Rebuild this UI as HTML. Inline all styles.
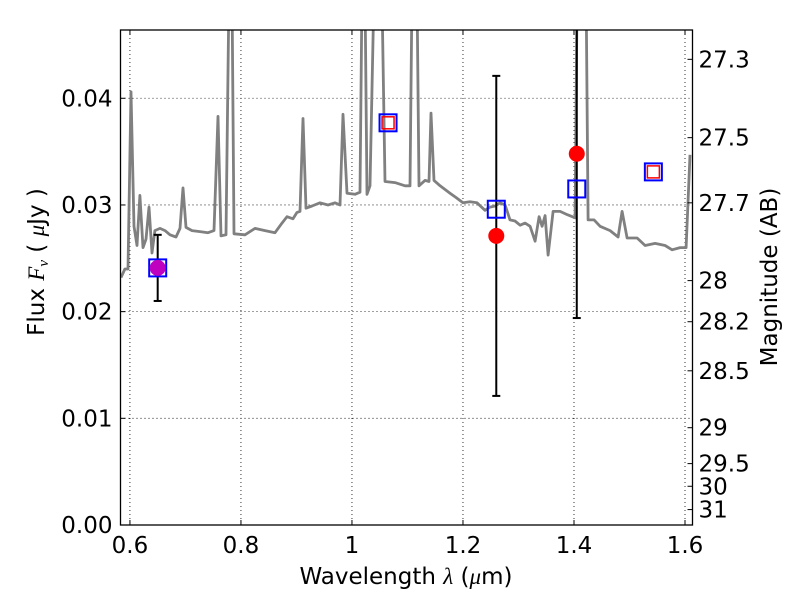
<!DOCTYPE html>
<html><head><meta charset="utf-8"><style>
body{margin:0;background:#fff;}
svg{display:block;font-family:"DejaVu Sans","Liberation Sans",sans-serif;}
</style></head><body>
<svg id="chart" width="800" height="600" viewBox="0 0 800 600"></svg>
<script>
const specWave=[0.5839,0.591,0.5965,0.602,0.6073,0.6127,0.618,0.6235,0.629,0.6343,0.6398,0.645,0.6542,0.6632,0.6722,0.683,0.6902,0.6956,0.701,0.7118,0.7262,0.7406,0.7515,0.7587,0.764,0.773,0.7785,0.7839,0.7875,0.8073,0.8254,0.8434,0.8614,0.874,0.883,0.8938,0.901,0.9064,0.9118,0.9172,0.928,0.9424,0.9568,0.9694,0.9784,0.9838,0.991,1.0054,1.0145,1.018,1.0235,1.027,1.0325,1.0397,1.045,1.0487,1.054,1.0595,1.0775,1.0955,1.1046,1.1082,1.1172,1.1208,1.1316,1.1388,1.1424,1.1478,1.1587,1.1767,1.1875,1.2001,1.2127,1.2253,1.2397,1.2487,1.2578,1.2668,1.2758,1.2848,1.2938,1.3029,1.3119,1.3209,1.3299,1.3371,1.3425,1.3479,1.3533,1.3624,1.375,1.3876,1.402,1.4056,1.4218,1.4254,1.4362,1.447,1.4651,1.4795,1.4867,1.4957,1.5137,1.5281,1.5461,1.5641,1.5767,1.5911,1.602,1.609];
const specFlux=[0.0232,0.0240,0.0240,0.0406,0.0280,0.0262,0.0309,0.0260,0.0268,0.0298,0.0255,0.0276,0.0278,0.0276,0.0272,0.0270,0.0278,0.0316,0.0279,0.0276,0.0275,0.0274,0.0276,0.0383,0.0271,0.0272,0.05,0.05,0.0273,0.0272,0.0278,0.0276,0.0274,0.0283,0.0289,0.0287,0.0293,0.0294,0.0381,0.0297,0.0299,0.0302,0.0300,0.0302,0.0300,0.0385,0.0311,0.0310,0.0312,0.05,0.05,0.0310,0.0318,0.05,0.05,0.05,0.05,0.0322,0.0321,0.0318,0.0318,0.05,0.05,0.0318,0.0323,0.0322,0.0386,0.0323,0.0318,0.0311,0.0307,0.0302,0.0303,0.0302,0.0295,0.0298,0.0299,0.0302,0.0300,0.0286,0.0285,0.0281,0.0283,0.0280,0.0266,0.0289,0.0280,0.0290,0.0253,0.0294,0.0294,0.0291,0.0288,0.05,0.05,0.0286,0.0286,0.0280,0.0276,0.0270,0.0294,0.0269,0.0269,0.0262,0.0264,0.0262,0.0258,0.0260,0.0260,0.0347];
const modelWave=[0.65,1.065,1.26,1.405,1.543];
const modelFlux=[0.0241,0.0377,0.0296,0.0315,0.0331];
const modelInner=[false,true,false,false,true];
const obsWave=[0.65,1.26,1.405];
const obsFlux=[0.0241,0.0271,0.0348];
const obsErr=[0.0031,0.0150,0.0154];
const obsColor=["#bf00bf","#ff0000","#ff0000"];
const xTicks=[0.6,0.8,1.0,1.2,1.4,1.6];
const xTickLabels=["0.6","0.8","1","1.2","1.4","1.6"];
const yTicks=[0,0.01,0.02,0.03,0.04];
const yTickLabels=["0.00","0.01","0.02","0.03","0.04"];
const magTicks=[27.3,27.5,27.7,28,28.2,28.5,29,29.5,30,31];
const magLabels=["27.3","27.5","27.7","28","28.2","28.5","29","29.5","30","31"];

const L=120.5,R=692.5,T=30,B=525;
const X0=0.583,X1=1.6135,Y0=0,Y1=0.0464;
const FS=23;
const xs=v=>L+(v-X0)/(X1-X0)*(R-L);
const ys=v=>B-(v-Y0)/(Y1-Y0)*(B-T);
const magToFlux=m=>Math.pow(10,(23.9-m)/2.5);
const NS="http://www.w3.org/2000/svg";
const svg=document.getElementById('chart');
function mk(tag,attrs,parent){const e=document.createElementNS(NS,tag);for(const k in attrs)e.setAttribute(k,attrs[k]);(parent||svg).appendChild(e);return e;}

const defs=mk('defs',{});
const cp=mk('clipPath',{id:'clip'},defs);
mk('rect',{x:L,y:T,width:R-L,height:B-T},cp);

const grid=mk('g',{});


xTicks.forEach(t=>{mk('line',{x1:xs(t),x2:xs(t),y1:T,y2:B,stroke:'#000','stroke-width':0.8,'stroke-dasharray':'1,3'},grid);});
yTicks.forEach(t=>{mk('line',{x1:L,x2:R,y1:ys(t),y2:ys(t),stroke:'#000','stroke-width':0.8,'stroke-dasharray':'1,3'},grid);});

const plot=mk('g',{'clip-path':'url(#clip)'});


let d='';specWave.forEach((w,i)=>{d+=(i?'L':'M')+xs(w).toFixed(1)+','+ys(specFlux[i]).toFixed(1);});
const sp=mk('path',{d:d,fill:'none',stroke:'#808080','stroke-width':2.8,'stroke-linejoin':'round'},plot);



obsWave.forEach((w,i)=>{
  const x=xs(w),y1=ys(obsFlux[i]+obsErr[i]),y2=ys(obsFlux[i]-obsErr[i]);
  const g=mk('g',{},plot);
  
  
  mk('line',{x1:x,x2:x,y1:y1,y2:y2,stroke:'#000','stroke-width':2},g);
  mk('line',{x1:x-4,x2:x+4,y1:y1,y2:y1,stroke:'#000','stroke-width':2},g);
  mk('line',{x1:x-4,x2:x+4,y1:y2,y2:y2,stroke:'#000','stroke-width':2},g);
});
modelWave.forEach((w,i)=>{
  const x=xs(w),y=ys(modelFlux[i]);
  const r=mk('rect',{x:x-8.5,y:y-8.5,width:17,height:17,fill:'none',stroke:'#0000ff','stroke-width':2},plot);
  
  
  if(modelInner[i]){
    const r2=mk('rect',{x:x-6,y:y-6,width:12,height:12,fill:'none',stroke:'#ff0000','stroke-width':1.5},plot);
    
    
  }
});
obsWave.forEach((w,i)=>{
  const c=mk('circle',{cx:xs(w),cy:ys(obsFlux[i]),r:8,fill:obsColor[i]},plot);
  
  
});

const fr=mk('rect',{x:L,y:T,width:R-L,height:B-T,fill:'none',stroke:'#000','stroke-width':1.3});



const xa=mk('g',{});


xTicks.forEach((t,i)=>{
  mk('line',{x1:xs(t),x2:xs(t),y1:B,y2:B-5,stroke:'#000'},xa);
  mk('line',{x1:xs(t),x2:xs(t),y1:T,y2:T+5,stroke:'#000'},xa);
  const tx=mk('text',{x:xs(t),y:B+28,'text-anchor':'middle','font-size':FS},xa);tx.textContent=xTickLabels[i];
});
const xl=mk('text',{x:406,y:584,'text-anchor':'middle','font-size':FS});


xl.setAttribute('xml:space','preserve');
xl.innerHTML='Wavelength  <tspan font-family="Liberation Serif,serif" font-style="italic">λ</tspan> (<tspan font-family="Liberation Serif,serif" font-style="italic">μ</tspan>m)';

const ya=mk('g',{});


yTicks.forEach((t,i)=>{
  mk('line',{x1:L,x2:L+5,y1:ys(t),y2:ys(t),stroke:'#000'},ya);
  const tx=mk('text',{x:L-8,y:ys(t)+8,'text-anchor':'end','font-size':FS},ya);tx.textContent=yTickLabels[i];
});
const yl=mk('text',{x:0,y:0,'text-anchor':'middle','font-size':FS,transform:'translate(44,262) rotate(-90)'});


yl.setAttribute('xml:space','preserve');
yl.innerHTML='Flux  <tspan font-family="Liberation Serif,serif" font-style="italic">F<tspan font-size="15" dy="4">ν</tspan></tspan><tspan dy="-4">  ( </tspan><tspan font-family="Liberation Serif,serif" font-style="italic">μ</tspan>Jy )';

const ra=mk('g',{});


magTicks.forEach((m,i)=>{
  const y=ys(magToFlux(m));
  mk('line',{x1:R,x2:R-5,y1:y,y2:y,stroke:'#000'},ra);
  const tx=mk('text',{x:R+6,y:y+8,'font-size':FS},ra);tx.textContent=magLabels[i];
});
const rl=mk('text',{x:0,y:0,'text-anchor':'middle','font-size':FS,transform:'translate(777,277) rotate(-90)'});


rl.textContent='Magnitude (AB)';
</script>
</body></html>
